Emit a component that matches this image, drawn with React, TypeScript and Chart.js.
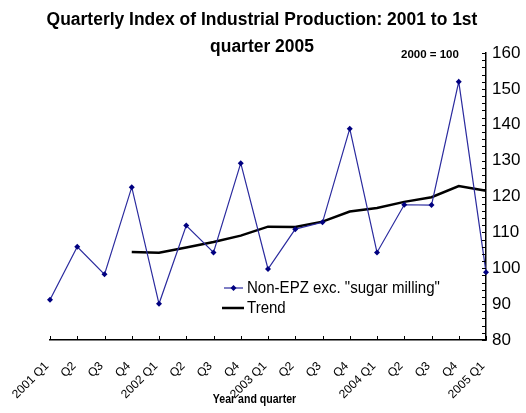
import React, { useEffect, useRef } from "react";
import { Chart, registerables } from "chart.js";

Chart.register(...registerables);

const categories = [
  "2001 Q1", "Q2", "Q3", "Q4",
  "2002 Q1", "Q2", "Q3", "Q4",
  "2003 Q1", "Q2", "Q3", "Q4",
  "2004 Q1", "Q2", "Q3", "Q4",
  "2005 Q1",
];

const nonEpzValues = [
  91.2, 106.0, 98.3, 122.6,
  90.1, 111.9, 104.4, 129.3,
  99.8, 110.9, 112.8, 138.9,
  104.4, 117.7, 117.6, 152.0,
  98.9,
];

const trendValues = [
  null, null, null, 104.5,
  104.3, 105.8, 107.3, 109.1,
  111.6, 111.5, 113.0, 115.8,
  116.8, 118.5, 119.8, 122.9,
  121.6,
];

const seriesNames = ['Non-EPZ exc. "sugar milling"', "Trend"];
const titleLines = ["Quarterly Index of Industrial Production: 2001 to 1st", "quarter 2005"];
const baseNote = "2000 = 100";
const xAxisTitle = "Year and quarter";
const yMin = 80;
const yMax = 160;

const FONT = "'Liberation Sans', Arial, sans-serif";
const BLUE_LINE = "#2a2a9e";
const BLUE_PT = "#000080";

function drawScaled(ctx: any, text: string, x: number, y: number, sx: number, align: string) {
  ctx.save();
  ctx.translate(x, y);
  ctx.scale(sx, 1);
  ctx.textAlign = align;
  ctx.fillText(text, 0, 0);
  ctx.restore();
}

const decorPlugin = {
  id: "decor",
  afterDraw(chart: any) {
    const ctx = chart.ctx;
    const area = chart.chartArea;
    const xs = chart.scales.x;
    const ys = chart.scales.y;
    ctx.save();
    // inward tick marks
    ctx.strokeStyle = "#000";
    ctx.lineWidth = 1;
    ctx.beginPath();
    for (let v = yMin; v <= yMax; v += 2) {
      const y = Math.round(ys.getPixelForValue(v)) + 0.5;
      ctx.moveTo(area.right, y);
      ctx.lineTo(area.right - 4, y);
    }
    for (let i = 0; i < categories.length; i++) {
      const x = Math.round(xs.getPixelForValue(i)) + 0.5;
      ctx.moveTo(x, area.bottom);
      ctx.lineTo(x, area.bottom - 4);
    }
    ctx.stroke();

    // title
    ctx.fillStyle = "#000";
    ctx.textBaseline = "alphabetic";
    ctx.font = `bold 18px ${FONT}`;
    drawScaled(ctx, titleLines[0], 262, 25, 0.97, "center");
    drawScaled(ctx, titleLines[1], 262, 52, 0.97, "center");

    // base note
    ctx.font = `bold 11.5px ${FONT}`;
    drawScaled(ctx, baseNote, 401, 58, 1, "left");

    // x axis title
    ctx.font = `bold 12px ${FONT}`;
    drawScaled(ctx, xAxisTitle, 254.5, 403, 0.88, "center");

    // legend
    const lx = 224;
    const ly1 = 288;
    const ly2 = 308;
    ctx.strokeStyle = BLUE_LINE;
    ctx.lineWidth = 1.2;
    ctx.beginPath();
    ctx.moveTo(lx, ly1);
    ctx.lineTo(lx + 19, ly1);
    ctx.stroke();
    ctx.fillStyle = BLUE_PT;
    ctx.beginPath();
    const cx = lx + 9.5;
    ctx.moveTo(cx, ly1 - 3);
    ctx.lineTo(cx + 3, ly1);
    ctx.lineTo(cx, ly1 + 3);
    ctx.lineTo(cx - 3, ly1);
    ctx.closePath();
    ctx.fill();
    ctx.strokeStyle = "#000";
    ctx.lineWidth = 2.5;
    ctx.beginPath();
    ctx.moveTo(lx - 2, ly2);
    ctx.lineTo(lx + 20, ly2);
    ctx.stroke();
    ctx.fillStyle = "#000";
    ctx.font = `16px ${FONT}`;
    ctx.textBaseline = "middle";
    drawScaled(ctx, seriesNames[0], lx + 23, ly1 + 1, 0.94, "left");
    drawScaled(ctx, seriesNames[1], lx + 23, ly2 + 1, 0.94, "left");
    ctx.restore();
  },
};

export default function App() {
  const ref = useRef<HTMLCanvasElement | null>(null);
  useEffect(() => {
    if (!ref.current) return;
    const chart = new Chart(ref.current, {
      type: "line",
      data: {
        labels: categories,
        datasets: [
          {
            label: seriesNames[0],
            data: nonEpzValues,
            borderColor: BLUE_LINE,
            backgroundColor: BLUE_PT,
            borderWidth: 1.2,
            pointStyle: "rectRot",
            pointRadius: 3,
            pointBorderWidth: 0,
            pointBackgroundColor: BLUE_PT,
            tension: 0,
          },
          {
            label: seriesNames[1],
            data: trendValues,
            borderColor: "#000",
            backgroundColor: "#000",
            borderWidth: 2.5,
            pointRadius: 0,
            tension: 0,
            spanGaps: false,
          },
        ],
      },
      options: {
        responsive: false,
        animation: false,
        layout: { padding: { left: 50, top: 53, right: 0, bottom: 0 } },
        plugins: {
          legend: { display: false },
          title: { display: false },
          tooltip: { enabled: false },
        },
        scales: {
          x: {
            type: "category",
            offset: false,
            grid: { display: false, drawTicks: false },
            border: { display: true, color: "#000", width: 1.5 },
            ticks: {
              autoSkip: false,
              maxRotation: 45,
              minRotation: 45,
              color: "#000",
              padding: 19,
              labelOffset: -3,
              font: { family: FONT, size: 12 },
            },
            afterFit: (scale: any) => {
              scale.height = 73;
              scale.paddingLeft = 0;
              scale.paddingRight = 0;
            },
          },
          y: {
            position: "right",
            min: yMin,
            max: yMax,
            grid: { display: false, drawTicks: false },
            border: { display: true, color: "#000", width: 1.5 },
            ticks: {
              stepSize: 2,
              autoSkip: false,
              color: "#000",
              padding: 6,
              font: { family: FONT, size: 17 },
              callback: (v: any) => (Number(v) % 10 === 0 ? String(v) : ""),
            },
            afterFit: (scale: any) => {
              scale.width = 40;
              scale.paddingTop = 0;
              scale.paddingBottom = 0;
            },
          },
        },
      },
      plugins: [decorPlugin],
    });
    return () => chart.destroy();
  }, []);
  return (
    <div style={{ position: "fixed", left: 0, top: 0, width: 526, height: 413, background: "#fff" }}>
      <canvas ref={ref} width={526} height={413} style={{ display: "block" }} />
    </div>
  );
}
